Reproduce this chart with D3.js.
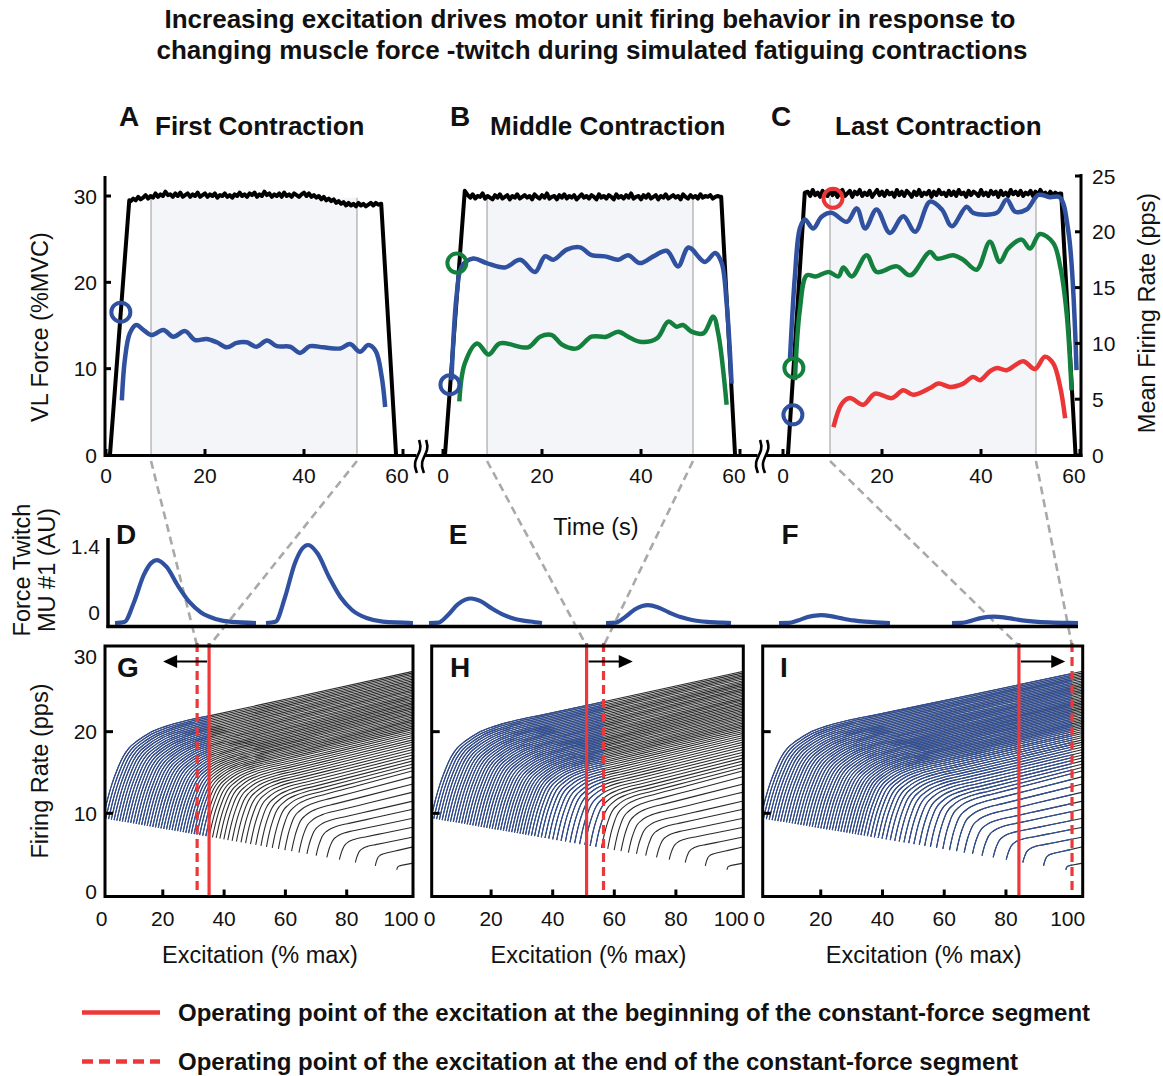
<!DOCTYPE html>
<html>
<head>
<meta charset="utf-8">
<script src="https://cdn.jsdelivr.net/npm/d3@7"></script>
<style>
  body { margin: 0; background: #fff; }
  svg { display: block; }
  text { font-family: 'Liberation Sans', Arial, sans-serif; fill: #111; }
</style>
</head>
<body>
<svg id="chart" width="1163" height="1076"></svg>
<script>
// ---- data ----
// VL force (%MVC): ramp up, plateau sampled every 0.5 s from t = 5 s, ramp down
const forceUpA = [[0.8, 0], [4.7, 29.5]];
const forcePlateauA = [29.4,29.7,29.5,29.9,29.6,29.8,30.1,29.7,30.0,29.8,
  30.3,29.9,30.2,30.0,30.5,30.1,30.2,29.9,30.3,30.0,
  30.4,29.9,30.1,30.3,29.9,30.2,30.0,30.4,29.9,30.1,
  30.3,29.9,30.2,30.0,30.3,29.8,30.1,30.0,30.3,29.9,
  30.1,29.8,30.2,30.0,30.4,30.0,30.2,29.9,30.3,30.1,
  30.4,29.9,30.2,30.0,30.5,30.1,30.3,29.9,30.2,30.0,
  30.3,29.9,30.4,30.0,30.2,29.9,30.3,30.1,29.9,30.2,
  30.4,30.0,30.3,29.9,30.1,29.8,30.0,29.6,29.9,29.5,
  29.7,29.4,29.6,29.2,29.4,29.1,29.3,28.9,29.2,28.9,
  29.1,28.8,29.2,28.9,29.1,28.8,29.0,29.2,28.9,29.2,29.0];
const forceDownA = [[55.6, 29.1], [58.6, 0]];

const forceUpB = [[0.4, 0], [4.4, 30.6]];
const forcePlateauB = [30.1,29.8,30.2,29.7,30.0,29.9,30.3,29.7,30.0,29.8,
  29.6,30.1,29.8,30.2,29.7,29.9,30.1,29.6,30.0,29.8,
  30.2,29.7,29.9,30.1,29.8,30.0,29.6,30.2,29.9,29.7,
  30.1,29.8,30.3,29.7,29.9,30.0,29.6,30.1,29.8,30.2,
  29.7,30.0,29.8,30.1,29.6,29.9,30.2,29.8,30.0,29.7,
  30.1,29.9,29.6,30.2,29.8,30.0,29.7,30.1,29.9,29.6,
  30.2,29.8,30.0,29.7,30.1,29.8,30.3,29.7,29.9,30.0,
  29.6,30.1,29.8,30.2,29.7,29.9,30.1,29.6,30.0,29.8,
  30.2,29.7,29.9,30.1,29.8,30.0,29.6,30.2,29.9,29.7,
  30.1,29.8,30.0,29.7,30.2,29.8,30.0,29.9,30.1,29.7,
  29.9,30.0,29.9];
const forceDownB = [[56.2, 29.9], [59, 0]];

const forceUpC = [[1.0, 0], [4.4, 30.4]];
const forcePlateauC = [30.5,30.0,30.7,30.1,30.4,29.9,30.6,30.2,30.0,30.7,
  30.1,30.5,29.9,30.4,30.7,30.0,30.3,30.6,29.9,30.5,
  30.2,30.7,30.0,30.4,30.1,30.6,29.9,30.3,30.7,30.1,
  30.5,30.0,30.6,30.2,30.4,29.9,30.7,30.1,30.5,30.0,
  30.6,30.3,29.9,30.5,30.1,30.7,30.0,30.4,30.2,30.6,
  29.9,30.5,30.1,30.7,30.2,30.4,30.0,30.6,30.1,30.5,
  30.0,30.7,30.2,30.4,29.9,30.6,30.1,30.5,30.3,30.0,
  30.7,30.1,30.4,30.0,30.6,30.2,30.5,29.9,30.6,30.1,
  30.4,30.0,30.7,30.2,30.5,30.1,30.6,30.0,30.4,30.2,
  30.6,30.0,30.5,30.1,30.7,30.2,30.4,30.0,30.5,30.1,
  30.4,30.2,30.3];
const forceDownC = [[56.2, 30.3], [59.1, 0]];

const PLATEAU_T0 = 5;
const PLATEAU_STEP = 0.5;

// constant-force segment (s) used for the grey band and connectors
const segmentA = [9.1, 50.7];
const segmentB = [8.9, 50.5];
const segmentC = [9.5, 51.1];

// mean firing rate (pps) vs time (s)
const rateBlueA = [[3.2,4.9],[3.8,8.5],[4.8,10.9],[6.1,11.65],[7.6,11.2],[9.2,10.75],[11.6,11.2],[13.6,10.6],[16,11.1],[18,10.3],[20.3,10.4],[22.4,10.1],[24.4,9.65],[26.4,10.05],[28.4,10.1],[30.4,9.7],[32.5,10.25],[34.5,9.75],[37.2,9.7],[39.2,9.15],[41.2,9.75],[43.9,9.65],[47.3,9.55],[49.3,9.95],[51.3,9.25],[53,9.85],[54.5,9.3],[55.7,7.0],[56.4,4.3]];
const rateBlueB = [[1.7,6.7],[2.8,14.5],[3.8,16.9],[6.1,17.6],[8.8,17.2],[12.5,16.8],[15.6,17.5],[18.6,16.4],[20.6,17.8],[22.3,17.5],[25,18.4],[27.7,18.6],[30,17.9],[32.7,17.8],[35.4,17.5],[37.4,17.9],[39.8,17.2],[42.5,17.8],[45.2,18.3],[47.5,16.9],[49.6,18.6],[52.9,17.3],[55,18.1],[56.3,17.2],[57.3,13.6],[58.3,6.4]];
const rateGreenB = [[3.3,4.8],[4.4,8.2],[6.9,10.0],[9.2,9.0],[11.5,10.0],[17.2,9.65],[19.6,10.6],[22,10.75],[24,9.9],[27,9.55],[30,10.6],[33,10.6],[35.4,11.05],[37.4,10.6],[39.8,10.15],[43.2,10.45],[45.5,11.95],[47.2,11.5],[48.5,11.65],[50.2,11.05],[52.6,10.9],[54.6,12.4],[55.6,10.9],[57.3,4.5]];
const rateBlueC = [[1.4,8.5],[2.4,16.0],[3.4,20.3],[4.4,21.1],[6.1,20.3],[7.8,21.35],[9.8,21.7],[12.9,20.9],[14.9,22.1],[16.6,20.3],[18.9,22.0],[21.6,19.9],[24.3,21.4],[26.7,20.0],[29.7,22.7],[32.1,22.0],[34.1,20.5],[37.1,22.25],[38.4,21.7],[43.2,21.7],[45.2,22.9],[46.9,21.8],[49.2,22.0],[51.6,23.3],[53.9,23.1],[55.9,23.1],[57.6,20.2],[59.3,7.6]];
const rateGreenC = [[2.4,6.7],[3.4,13.0],[4.8,16.1],[6.6,16.0],[9.2,16.4],[11.2,16.0],[12.2,16.8],[13.9,16.0],[16.9,17.9],[18.9,16.4],[23,16.9],[25.7,16.1],[29.7,18.2],[31.1,17.6],[34.4,17.9],[36.4,17.5],[39.1,16.6],[41.8,19.1],[43.8,17.3],[45.5,18.5],[48.2,19.3],[49.9,18.5],[51.9,19.8],[54.6,19.0],[56,16.9],[57.3,12.7],[58.3,5.8]];
const rateRedC = [[10.2,2.5],[11.9,4.6],[13.5,5.1],[16.2,4.5],[18.6,5.5],[22,5.1],[24.3,5.8],[26.3,5.4],[29.7,6.0],[31.4,6.4],[33.8,6.1],[36.4,6.4],[38.4,7.0],[39.8,6.7],[41.8,7.5],[43.2,7.8],[45.2,7.6],[48.5,8.4],[50.9,7.7],[52.9,8.8],[54.6,8.2],[56,6.1],[57,3.3]];

// recruitment markers [time (s), rate (pps), colour]
const circlesA = [[3.0, 12.8, 'blue']];
const circlesB = [[2.8, 17.2, 'green'], [1.4, 6.3, 'blue']];
const circlesC = [[10.1, 23.0, 'red'], [2.2, 7.8, 'green'], [2.0, 3.6, 'blue']];

// MU #1 force twitches (D, E, F): start, amplitude (AU), length on the twitch axis
const twitchStarts = [7, 158, 321, 498, 671, 844];
const twitchAmps = [1.13, 1.4, 0.44, 0.32, 0.14, 0.115];
const twitchLengths = [141, 147, 113, 125, 111, 126];
const twitchProfileT = [0, 9.5, 19, 28.7, 36.3, 42, 51.6, 63, 74.6, 86, 101.4, 116.7, 147];
const twitchProfileV = [0, 0.017, 0.33, 0.76, 0.955, 1, 0.89, 0.59, 0.33, 0.167, 0.06, 0.017, 0];

// motor unit firing rate vs excitation (G, H, I)
const unitThresholds = [0.5,1.4,2.3,3.2,4.1,5.0,5.9,6.8,7.7,8.6,9.5,10.4,11.3,12.2,13.1,14.0,14.9,15.8,16.7,17.6,18.5,19.4,20.3,21.2,22.1,23.0,23.9,24.8,25.7,26.6,27.5,28.4,29.3,30.2,31.1,32.0,33.0,34.0,35.1,36.2,37.4,38.6,39.9,41.2,42.6,44.0,45.5,47.0,48.6,50.3,52.0,53.8,55.7,57.7,59.8,62.0,64.4,67.0,70.0,73.5,77.6,82.8,89.3,96.3];
const unitStartRates = [9.42,9.36,9.30,9.24,9.18,9.12,9.06,9.00,8.94,8.88,8.82,8.76,8.70,8.64,8.59,8.53,8.47,8.41,8.35,8.29,8.23,8.17,8.11,8.05,7.99,7.93,7.87,7.81,7.75,7.69,7.63,7.58,7.52,7.46,7.40,7.34,7.27,7.21,7.13,7.06,6.98,6.90,6.82,6.73,6.64,6.55,6.45,6.35,6.24,6.13,6.02,5.90,5.77,5.64,5.50,5.36,5.20,5.03,4.83,4.60,4.33,3.98,3.56,3.09];
const unitEndRates = [27.39,27.20,27.01,26.82,26.63,26.44,26.24,26.05,25.86,25.67,25.48,25.28,25.09,24.90,24.71,24.52,24.33,24.13,23.94,23.75,23.56,23.37,23.18,22.98,22.79,22.60,22.41,22.22,22.03,21.83,21.64,21.45,21.26,21.07,20.88,20.68,20.47,20.26,20.02,19.79,19.53,19.28,19.00,18.72,18.43,18.13,17.81,17.49,17.15,16.79,16.42,16.04,15.64,15.21,14.5,13.6,12.6,11.5,10.5,9.4,8.3,7.1,5.9,3.9];
// shape of a rate curve: fraction of excitation span vs fraction of rate rise
const fanProfileU = [0, 0.01, 0.02, 0.03, 0.045, 0.065, 0.085, 0.11, 0.15, 0.2, 0.27, 0.35, 0.6, 1];
const fanProfileF = [0, 0.09, 0.17, 0.24, 0.326, 0.42, 0.48, 0.525, 0.58, 0.623, 0.665, 0.7, 0.815, 1];

// operating points of excitation (% max) for G, H, I
const operatingStart = [35.1, 51, 84.2];
const operatingEnd = [31.2, 56.5, 101.4];

const timeTicks = [0, 20, 40, 60];
const forceTicks = [0, 10, 20, 30];
const rateTicks = [0, 5, 10, 15, 20, 25];
const excitationTicks = [0, 20, 40, 60, 80, 100];
const firingTicks = [0, 10, 20, 30];

// ---- layout ----
const COLOURS = {blue: '#3050a0', green: '#14803e', red: '#ea3636'};
const FAN_BLUE = '#2e4f9e';
const FAN_BLACK = '#2a2a2a';
const RED = '#ec3838';
const FAN_END = 101.6;
const BOX_TOP = 646;
const BOX_BOTTOM = 896.5;

const svg = d3.select('#chart');
const defs = svg.append('defs');

const forceY = d3.scaleLinear([0, 30], [455, 196]);
const rateY = d3.scaleLinear([0, 25], [455, 176]);
const fanY = d3.scaleLinear([0, 30], [895, 650]);
const twitchX = d3.scaleLinear([0, 970], [108, 1078]);
const twitchY = d3.scaleLinear([0, 1.4], [623, 545]);

function forceSeries(up, plateau, down) {
  return [...up, ...plateau.map((v, i) => [PLATEAU_T0 + i * PLATEAU_STEP, v]), ...down];
}

const topPanels = [
  {x0: 106, x60: 403, force: forceSeries(forceUpA, forcePlateauA, forceDownA), seg: segmentA,
   traces: [[rateBlueA, 'blue']], circles: circlesA,
   letter: 'A', letterX: 129, title: 'First Contraction', titleX: 155},
  {x0: 443, x60: 740, force: forceSeries(forceUpB, forcePlateauB, forceDownB), seg: segmentB,
   traces: [[rateGreenB, 'green'], [rateBlueB, 'blue']], circles: circlesB,
   letter: 'B', letterX: 460, title: 'Middle Contraction', titleX: 490},
  {x0: 783, x60: 1080, force: forceSeries(forceUpC, forcePlateauC, forceDownC), seg: segmentC,
   traces: [[rateRedC, 'red'], [rateGreenC, 'green'], [rateBlueC, 'blue']], circles: circlesC,
   letter: 'C', letterX: 781, title: 'Last Contraction', titleX: 835},
];

const excPanels = [
  {x0: 101.5, x100: 408, boxL: 105, boxR: 413, letter: 'G', letterX: 128},
  {x0: 429.5, x100: 737.5, boxL: 431.7, boxR: 743.3, letter: 'H', letterX: 460},
  {x0: 759, x100: 1067.7, boxL: 762.7, boxR: 1082.7, letter: 'I', letterX: 784},
];

function addText(x, y, str, opts = {}) {
  return svg.append('text')
    .attr('x', x).attr('y', y)
    .attr('font-size', opts.size || 21)
    .attr('font-weight', opts.bold ? 'bold' : null)
    .attr('text-anchor', opts.anchor || 'middle')
    .text(str);
}

function addVerticalText(x, y, str, size) {
  svg.append('text')
    .attr('transform', `translate(${x},${y}) rotate(-90)`)
    .attr('font-size', size)
    .attr('text-anchor', 'middle')
    .attr('dy', '0.35em')
    .text(str);
}

// ---- title ----
addText(590, 28, 'Increasing excitation drives motor unit firing behavior in response to', {size: 26, bold: true});
addText(592, 59, 'changing muscle force -twitch during simulated fatiguing contractions', {size: 26, bold: true});

// ---- top panels A, B, C ----
const excScales = excPanels.map(p => d3.scaleLinear([0, 100], [p.x0, p.x100]));

// connectors first so everything else sits on top
topPanels.forEach((p, i) => {
  const x = d3.scaleLinear([0, 60], [p.x0, p.x60]);
  const ops = [operatingStart[i], operatingEnd[i]].sort((a, b) => a - b);
  [0, 1].forEach(k => {
    svg.append('line')
      .attr('x1', x(p.seg[k])).attr('y1', 461)
      .attr('x2', excScales[i](ops[k])).attr('y2', BOX_TOP)
      .attr('stroke', '#a9a9a9')
      .attr('stroke-width', 2.6)
      .attr('stroke-dasharray', '8,5');
  });
});

topPanels.forEach((p, i) => {
  const x = d3.scaleLinear([0, 60], [p.x0, p.x60]);
  const g = svg.append('g');

  // constant-force band
  g.append('rect')
    .attr('x', x(p.seg[0])).attr('y', forceY(29.8))
    .attr('width', x(p.seg[1]) - x(p.seg[0]))
    .attr('height', forceY(0) - forceY(29.8))
    .attr('fill', '#f3f5f8');
  p.seg.forEach(t => {
    g.append('line')
      .attr('x1', x(t)).attr('x2', x(t))
      .attr('y1', forceY(0)).attr('y2', forceY(29.8))
      .attr('stroke', '#bdbdbd').attr('stroke-width', 1.6);
  });

  // force
  g.append('path')
    .datum(p.force)
    .attr('fill', 'none')
    .attr('stroke', '#000')
    .attr('stroke-width', 4)
    .attr('stroke-linejoin', 'round')
    .attr('d', d3.line().x(d => x(d[0])).y(d => forceY(d[1])));

  // firing rates
  p.traces.forEach(([data, colour]) => {
    g.append('path')
      .datum(data)
      .attr('fill', 'none')
      .attr('stroke', COLOURS[colour])
      .attr('stroke-width', 4.5)
      .attr('stroke-linejoin', 'round')
      .attr('d', d3.line().x(d => x(d[0])).y(d => rateY(d[1])).curve(d3.curveCatmullRom.alpha(0.5)));
  });

  g.selectAll('circle.mark')
    .data(p.circles)
    .join('circle')
    .attr('class', 'mark')
    .attr('cx', d => x(d[0]))
    .attr('cy', d => rateY(d[1]))
    .attr('r', 9.5)
    .attr('fill', 'none')
    .attr('stroke', d => COLOURS[d[2]])
    .attr('stroke-width', 4);

  // x ticks (inward) and labels
  timeTicks.forEach(t => {
    g.append('line')
      .attr('x1', x(t)).attr('x2', x(t))
      .attr('y1', 455).attr('y2', 449)
      .attr('stroke', '#000').attr('stroke-width', 3);
    addText(t === 60 ? x(t) - 6 : x(t), 483, String(t));
  });

  // panel heading
  addText(p.letterX, 126, p.letter, {size: 28, bold: true});
  addText(p.titleX, 135, p.title, {size: 26, bold: true, anchor: 'start'});
});

// shared time axis with breaks
svg.append('line')
  .attr('x1', 104).attr('x2', 1082.5)
  .attr('y1', 455.5).attr('y2', 455.5)
  .attr('stroke', '#000').attr('stroke-width', 3);

[420.5, 761.5].forEach(bx => {
  svg.append('rect')
    .attr('x', bx - 4).attr('y', 450).attr('width', 8).attr('height', 12)
    .attr('fill', '#fff');
  [-3.5, 3.5].forEach(dx => {
    svg.append('path')
      .attr('d', d3.line().curve(d3.curveBasis)([[bx + dx + 2, 440], [bx + dx + 5, 449], [bx + dx - 4, 463], [bx + dx, 473]]))
      .attr('fill', 'none')
      .attr('stroke', '#000')
      .attr('stroke-width', 2.6);
  });
});

// left force axis
svg.append('line')
  .attr('x1', 105).attr('x2', 105)
  .attr('y1', 176).attr('y2', 457)
  .attr('stroke', '#000').attr('stroke-width', 3);
forceTicks.forEach(v => {
  svg.append('line')
    .attr('x1', 105).attr('x2', 111)
    .attr('y1', forceY(v)).attr('y2', forceY(v))
    .attr('stroke', '#000').attr('stroke-width', 3);
  addText(97, forceY(v) + 7.5, String(v), {anchor: 'end'});
});

// right rate axis
svg.append('line')
  .attr('x1', 1081).attr('x2', 1081)
  .attr('y1', 174).attr('y2', 457)
  .attr('stroke', '#000').attr('stroke-width', 3);
rateTicks.forEach(v => {
  svg.append('line')
    .attr('x1', 1081).attr('x2', 1075)
    .attr('y1', rateY(v)).attr('y2', rateY(v))
    .attr('stroke', '#000').attr('stroke-width', 3);
  addText(1092, rateY(v) + 7.5, String(v), {anchor: 'start'});
});

addVerticalText(40, 327, 'VL Force (%MVC)', 23.5);
addVerticalText(1147, 313, 'Mean Firing Rate (pps)', 23.5);
addText(596, 535, 'Time (s)', {size: 23.5});

// ---- twitches D, E, F ----
const twitchLine = d3.line()
  .x(d => twitchX(d[0]))
  .y(d => twitchY(d[1]))
  .curve(d3.curveMonotoneX);

twitchStarts.forEach((start, i) => {
  const pts = twitchProfileT
    .map((t, k) => [t, twitchProfileV[k]])
    .filter(d => d[0] < twitchLengths[i])
    .map(d => [start + d[0], d[1] * twitchAmps[i]]);
  pts.push([start + twitchLengths[i], 0]);
  svg.append('path')
    .attr('d', twitchLine(pts))
    .attr('fill', 'none')
    .attr('stroke', COLOURS.blue)
    .attr('stroke-width', 4.2);
});

svg.append('line')
  .attr('x1', 108).attr('x2', 108)
  .attr('y1', 538).attr('y2', 628)
  .attr('stroke', '#000').attr('stroke-width', 3.5);
svg.append('line')
  .attr('x1', 106.5).attr('x2', 1078)
  .attr('y1', 626.5).attr('y2', 626.5)
  .attr('stroke', '#000').attr('stroke-width', 3.5);
addText(100, 554, '1.4', {anchor: 'end'});
addText(100, twitchY(0) - 3, '0', {anchor: 'end'});

addVerticalText(22, 570, 'Force Twitch', 23.5);
addVerticalText(47, 570, 'MU #1 (AU)', 23.5);

[['D', 126], ['E', 458], ['F', 790]].forEach(([l, lx]) => addText(lx, 544, l, {size: 28, bold: true}));

// ---- excitation panels G, H, I ----
const fanLineFor = xs => d3.line()
  .x(d => xs(d[0]))
  .y(d => fanY(d[1]))
  .curve(d3.curveMonotoneX);

const unitCurves = unitThresholds.map((r, k) => {
  const s = unitStartRates[k];
  const f = unitEndRates[k];
  return fanProfileU.map((u, j) => [r + u * (FAN_END - r), s + (f - s) * fanProfileF[j]]);
});

excPanels.forEach((p, i) => {
  const xTick = excScales[i];
  const xFan = d3.scaleLinear([0, FAN_END], [p.x0, p.boxR]);
  const line = fanLineFor(xFan);
  const g = svg.append('g');

  defs.append('clipPath').attr('id', `box-${i}`)
    .append('rect')
    .attr('x', p.boxL).attr('y', BOX_TOP)
    .attr('width', p.boxR - p.boxL).attr('height', BOX_BOTTOM - BOX_TOP);

  const cutoff = xTick(Math.max(operatingStart[i], operatingEnd[i]));
  defs.append('clipPath').attr('id', `blue-${i}`)
    .append('rect')
    .attr('x', p.boxL).attr('y', BOX_TOP)
    .attr('width', Math.min(cutoff, p.boxR) - p.boxL).attr('height', BOX_BOTTOM - BOX_TOP);

  g.append('g').attr('clip-path', `url(#box-${i})`)
    .selectAll('path')
    .data(unitCurves)
    .join('path')
    .attr('d', line)
    .attr('fill', 'none')
    .attr('stroke', FAN_BLACK)
    .attr('stroke-width', 1.1);

  g.append('g').attr('clip-path', `url(#blue-${i})`)
    .selectAll('path')
    .data(unitCurves)
    .join('path')
    .attr('d', line)
    .attr('fill', 'none')
    .attr('stroke', FAN_BLUE)
    .attr('stroke-width', 1.1);

  // operating points
  g.append('line')
    .attr('x1', xTick(operatingStart[i])).attr('x2', xTick(operatingStart[i]))
    .attr('y1', 643).attr('y2', 898)
    .attr('stroke', RED).attr('stroke-width', 3.2);
  g.append('line')
    .attr('x1', xTick(operatingEnd[i])).attr('x2', xTick(operatingEnd[i]))
    .attr('y1', 643).attr('y2', 898)
    .attr('stroke', RED).attr('stroke-width', 3.2)
    .attr('stroke-dasharray', '9,5');

  // arrow showing the drift of the operating point
  const dir = Math.sign(operatingEnd[i] - operatingStart[i]);
  const ax0 = xTick(operatingStart[i]) + dir * 2;
  const ax1 = xTick(operatingStart[i] + dir * 15);
  g.append('line')
    .attr('x1', ax0).attr('x2', ax1 - dir * 10)
    .attr('y1', 661.5).attr('y2', 661.5)
    .attr('stroke', '#000').attr('stroke-width', 2);
  g.append('path')
    .attr('d', `M${ax1},661.5 L${ax1 - dir * 14},655 L${ax1 - dir * 14},668 Z`)
    .attr('fill', '#000');

  // frame
  g.append('rect')
    .attr('x', p.boxL).attr('y', BOX_TOP)
    .attr('width', p.boxR - p.boxL).attr('height', BOX_BOTTOM - BOX_TOP)
    .attr('fill', 'none')
    .attr('stroke', '#000').attr('stroke-width', 3);

  // ticks
  excitationTicks.filter(v => v > 0 && v < 100).forEach(v => {
    g.append('line')
      .attr('x1', xTick(v)).attr('x2', xTick(v))
      .attr('y1', BOX_BOTTOM).attr('y2', BOX_BOTTOM - 7)
      .attr('stroke', '#000').attr('stroke-width', 3);
  });
  [10, 20].forEach(v => {
    g.append('line')
      .attr('x1', p.boxL).attr('x2', p.boxL + 8)
      .attr('y1', fanY(v)).attr('y2', fanY(v))
      .attr('stroke', '#000').attr('stroke-width', 3);
  });
  excitationTicks.forEach(v => {
    const lx = v === 100 ? Math.min(xTick(v), p.boxR - 12) : xTick(v);
    addText(lx, 926, String(v));
  });
  addText((p.boxL + p.boxR) / 2 + 1, 963, 'Excitation (% max)', {size: 23.5});
  addText(p.letterX, 677, p.letter, {size: 28, bold: true});
});

firingTicks.forEach(v => {
  const ly = v === 30 ? fanY(v) + 6 : (v === 0 ? fanY(v) - 4 : fanY(v));
  addText(97, ly + 7.5, String(v), {anchor: 'end'});
});
addVerticalText(40, 771, 'Firing Rate (pps)', 23.5);

// ---- legend ----
svg.append('line')
  .attr('x1', 82).attr('x2', 160)
  .attr('y1', 1012.5).attr('y2', 1012.5)
  .attr('stroke', RED).attr('stroke-width', 4.5);
svg.append('line')
  .attr('x1', 82).attr('x2', 160)
  .attr('y1', 1061.5).attr('y2', 1061.5)
  .attr('stroke', RED).attr('stroke-width', 4.5)
  .attr('stroke-dasharray', '11,6');
addText(178, 1021, 'Operating point of the excitation at the beginning of the constant-force segment', {size: 24, bold: true, anchor: 'start'});
addText(178, 1070, 'Operating point of the excitation at the end of the constant-force segment', {size: 24, bold: true, anchor: 'start'});
</script>
</body>
</html>
